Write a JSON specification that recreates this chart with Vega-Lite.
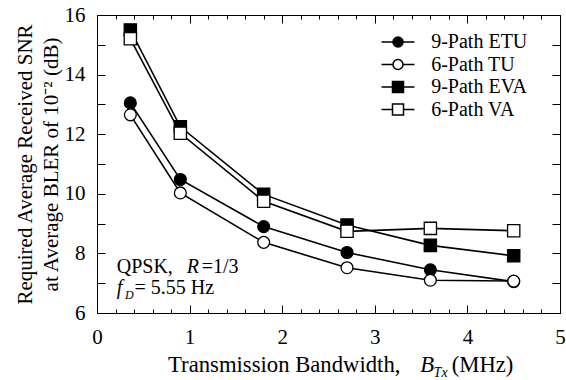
{
  "$schema": "https://vega.github.io/schema/vega-lite/v6.json",
  "autosize": "none",
  "width": 463,
  "height": 298,
  "padding": {"left": 97, "top": 15, "right": 6, "bottom": 67},
  "background": "white",
  "config": {
    "font": "'Liberation Serif', 'Times New Roman', Times, serif",
    "view": {"stroke": "black", "strokeWidth": 1},
    "axis": {
      "grid": false,
      "labelFont": "'Liberation Serif', 'Times New Roman', Times, serif",
      "labelFontSize": 21,
      "labelColor": "black",
      "tickColor": "black",
      "tickWidth": 1,
      "domainColor": "black",
      "titleFont": "'Liberation Serif', 'Times New Roman', Times, serif",
      "titleFontSize": 21,
      "titleFontWeight": "normal",
      "titleColor": "black"
    },
    "legend": {"labelFont": "'Liberation Serif', 'Times New Roman', Times, serif", "labelFontSize": 20, "labelColor": "black"},
    "text": {"font": "'Liberation Serif', 'Times New Roman', Times, serif", "color": "black"}
  },
  "data": {
    "values": [
      {"series": "9-Path ETU", "bw": 0.36, "snr": 13.05},
      {"series": "9-Path ETU", "bw": 0.9, "snr": 10.48},
      {"series": "9-Path ETU", "bw": 1.8, "snr": 8.9},
      {"series": "9-Path ETU", "bw": 2.7, "snr": 8.03},
      {"series": "9-Path ETU", "bw": 3.6, "snr": 7.45},
      {"series": "9-Path ETU", "bw": 4.5, "snr": 7.05},
      {"series": "6-Path TU", "bw": 0.36, "snr": 12.65},
      {"series": "6-Path TU", "bw": 0.9, "snr": 10.03},
      {"series": "6-Path TU", "bw": 1.8, "snr": 8.37},
      {"series": "6-Path TU", "bw": 2.7, "snr": 7.52},
      {"series": "6-Path TU", "bw": 3.6, "snr": 7.1},
      {"series": "6-Path TU", "bw": 4.5, "snr": 7.07},
      {"series": "9-Path EVA", "bw": 0.36, "snr": 15.5},
      {"series": "9-Path EVA", "bw": 0.9, "snr": 12.25},
      {"series": "9-Path EVA", "bw": 1.8, "snr": 9.98},
      {"series": "9-Path EVA", "bw": 2.7, "snr": 8.95},
      {"series": "9-Path EVA", "bw": 3.6, "snr": 8.27},
      {"series": "9-Path EVA", "bw": 4.5, "snr": 7.92},
      {"series": "6-Path VA", "bw": 0.36, "snr": 15.2},
      {"series": "6-Path VA", "bw": 0.9, "snr": 12.03},
      {"series": "6-Path VA", "bw": 1.8, "snr": 9.75},
      {"series": "6-Path VA", "bw": 2.7, "snr": 8.74},
      {"series": "6-Path VA", "bw": 3.6, "snr": 8.84},
      {"series": "6-Path VA", "bw": 4.5, "snr": 8.76}
    ]
  },
  "resolve": {"axis": {"x": "independent", "y": "independent"}},
  "layer": [
    {
      "mark": {"type": "line", "color": "black", "strokeWidth": 1.6},
      "encoding": {
        "x": {
          "field": "bw", "type": "quantitative",
          "scale": {"domain": [0, 5], "nice": false, "zero": false},
          "axis": {
            "orient": "bottom",
            "title": null,
            "values": [0, 0.2, 0.4, 0.6, 0.8, 1, 1.2, 1.4, 1.6, 1.8, 2, 2.2, 2.4, 2.6, 2.8, 3, 3.2, 3.4, 3.6, 3.8, 4, 4.2, 4.4, 4.6, 4.8, 5],
            "tickSize": {"condition": {"test": "datum.value % 1 == 0", "value": -8}, "value": -4},
            "labelExpr": "datum.value % 1 == 0 ? format(datum.value, 'd') : ''",
            "labelPadding": 21,
            "labelFlush": false,
            "labelOverlap": false
          }
        },
        "y": {
          "field": "snr", "type": "quantitative",
          "scale": {"domain": [6, 16], "nice": false, "zero": false},
          "axis": {
            "orient": "left",
            "values": [6, 7, 8, 9, 10, 11, 12, 13, 14, 15, 16],
            "tickSize": -8,
            "labelExpr": "datum.value % 2 == 0 ? datum.label : ''",
            "labelPadding": 20,
            "labelOverlap": false,
            "title": ["Required Average Received SNR", "at Average BLER of 10⁻² (dB)"],
            "titlePadding": 3,
            "titleLineHeight": 26
          }
        },
        "detail": {"field": "series"}
      }
    },
    {
      "transform": [{"filter": "indexof(datum.series, 'U') >= 0"}],
      "mark": {"type": "point", "shape": "circle", "filled": true, "stroke": "black", "strokeWidth": 1.3, "size": 140, "opacity": 1},
      "encoding": {
        "x": {
          "field": "bw", "type": "quantitative",
          "axis": {
            "orient": "top",
            "title": null,
            "values": [0, 0.2, 0.4, 0.6, 0.8, 1, 1.2, 1.4, 1.6, 1.8, 2, 2.2, 2.4, 2.6, 2.8, 3, 3.2, 3.4, 3.6, 3.8, 4, 4.2, 4.4, 4.6, 4.8, 5],
            "tickSize": {"condition": {"test": "datum.value % 1 == 0", "value": -8}, "value": -4},
            "labels": false
          }
        },
        "y": {
          "field": "snr", "type": "quantitative",
          "axis": {
            "orient": "right",
            "title": null,
            "values": [6, 7, 8, 9, 10, 11, 12, 13, 14, 15, 16],
            "tickSize": -8,
            "labels": false
          }
        },
        "fill": {
          "field": "series", "type": "nominal",
          "scale": {"domain": ["9-Path ETU", "6-Path TU", "9-Path EVA", "6-Path VA"], "range": ["black", "white", "black", "white"]},
          "legend": {
            "orient": "none",
            "legendX": 291,
            "legendY": 17,
            "title": null,
            "padding": 0,
            "symbolSize": 121,
            "symbolType": {"expr": "indexof(datum.value, 'U') >= 0 ? 'M-3,0H-0.91M0.91,0H3M0.91,0A0.91,0.91,0,1,1,-0.91,0A0.91,0.91,0,1,1,0.91,0Z' : 'M-3,0H-1M1,0H3M-1,-1H1V1H-1Z'"},
            "symbolStrokeColor": "black",
            "symbolStrokeWidth": 1.5,
            "labelOffset": 23.2,
            "rowPadding": 2.5,
            "labelFontSize": 20
          }
        }
      }
    },
    {
      "transform": [{"filter": "indexof(datum.series, 'U') < 0"}],
      "mark": {"type": "point", "shape": "square", "filled": true, "stroke": "black", "strokeWidth": 1.3, "size": 150, "opacity": 1},
      "encoding": {
        "x": {"field": "bw", "type": "quantitative", "axis": null},
        "y": {"field": "snr", "type": "quantitative", "axis": null},
        "fill": {"field": "series", "type": "nominal"}
      }
    },
    {
      "data": {"values": [{}]},
      "mark": {"type": "text", "text": "QPSK,", "fontSize": 20, "align": "left", "baseline": "alphabetic"},
      "encoding": {"x": {"datum": 0.213, "type": "quantitative", "axis": null}, "y": {"datum": 7.33, "type": "quantitative", "axis": null}}
    },
    {
      "data": {"values": [{}]},
      "mark": {"type": "text", "text": "R", "fontStyle": "italic", "fontSize": 20, "align": "left", "baseline": "alphabetic"},
      "encoding": {"x": {"datum": 0.969, "type": "quantitative", "axis": null}, "y": {"datum": 7.33, "type": "quantitative", "axis": null}}
    },
    {
      "data": {"values": [{}]},
      "mark": {"type": "text", "text": "=1/3", "fontSize": 20, "align": "left", "baseline": "alphabetic"},
      "encoding": {"x": {"datum": 1.13, "type": "quantitative", "axis": null}, "y": {"datum": 7.33, "type": "quantitative", "axis": null}}
    },
    {
      "data": {"values": [{}]},
      "mark": {"type": "text", "text": "f", "fontStyle": "italic", "fontSize": 20, "align": "left", "baseline": "alphabetic"},
      "encoding": {"x": {"datum": 0.213, "type": "quantitative", "axis": null}, "y": {"datum": 6.64, "type": "quantitative", "axis": null}}
    },
    {
      "data": {"values": [{}]},
      "mark": {"type": "text", "text": "D", "fontStyle": "italic", "fontSize": 12, "align": "left", "baseline": "alphabetic", "dy": 5},
      "encoding": {"x": {"datum": 0.303, "type": "quantitative", "axis": null}, "y": {"datum": 6.64, "type": "quantitative", "axis": null}}
    },
    {
      "data": {"values": [{}]},
      "mark": {"type": "text", "text": "= 5.55 Hz", "fontSize": 20, "align": "left", "baseline": "alphabetic"},
      "encoding": {"x": {"datum": 0.405, "type": "quantitative", "axis": null}, "y": {"datum": 6.64, "type": "quantitative", "axis": null}}
    },
    {
      "data": {"values": [{}]},
      "mark": {"type": "text", "text": "Transmission Bandwidth,", "fontSize": 22.7, "align": "left", "baseline": "alphabetic"},
      "encoding": {"x": {"datum": 0.767, "type": "quantitative", "axis": null}, "y": {"datum": 4.03, "type": "quantitative", "axis": null}}
    },
    {
      "data": {"values": [{}]},
      "mark": {"type": "text", "text": "B", "fontStyle": "italic", "fontSize": 22.7, "align": "left", "baseline": "alphabetic"},
      "encoding": {"x": {"datum": 3.49, "type": "quantitative", "axis": null}, "y": {"datum": 4.03, "type": "quantitative", "axis": null}}
    },
    {
      "data": {"values": [{}]},
      "mark": {"type": "text", "text": "Tx", "fontStyle": "italic", "fontSize": 14, "align": "left", "baseline": "alphabetic", "dy": 5},
      "encoding": {"x": {"datum": 3.635, "type": "quantitative", "axis": null}, "y": {"datum": 4.03, "type": "quantitative", "axis": null}}
    },
    {
      "data": {"values": [{}]},
      "mark": {"type": "text", "text": "(MHz)", "fontSize": 22.7, "align": "left", "baseline": "alphabetic"},
      "encoding": {"x": {"datum": 3.83, "type": "quantitative", "axis": null}, "y": {"datum": 4.03, "type": "quantitative", "axis": null}}
    }
  ]
}
